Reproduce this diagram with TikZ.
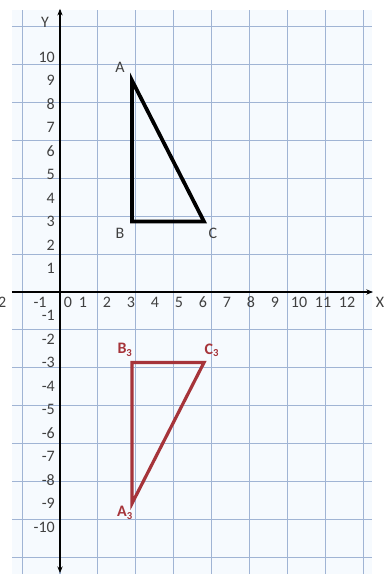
\documentclass[tikz,border=0pt]{standalone}
\usepackage{fontspec}
\setmainfont{Carlito}
\usetikzlibrary{arrows.meta, positioning, calc}
\definecolor{gridblue}{RGB}{160,180,212}
\definecolor{paper}{RGB}{246,250,254}
\definecolor{imagered}{RGB}{166,52,58}

\begin{document}
\begin{tikzpicture}[x=18pt, y=17.625pt, >={Stealth[length=5pt,width=4pt]},
    tick/.style={font=\fontsize{12}{14}\selectfont, inner sep=1pt, text=black!75},
    vlabel/.style={font=\fontsize{12}{14}\selectfont, inner sep=1pt, text=black!75},
    imglabel/.style={font=\fontsize{12}{14}\selectfont\bfseries, inner sep=1pt, text=imagered}]

  \useasboundingbox (-2.5,-12.298) rectangle (13.583,12.426);

  % --- Graph Paper ---
  \fill[paper] (-2,-12) rectangle (13,12);
  \draw[gridblue, line width=0.8pt] (-2,-12) grid (13,12);

  % --- Axes ---
  \draw[<->, line width=0.9pt] (0,-11.96) -- (0,12.05);
  \draw[->, line width=0.9pt] (-2,0) -- (13.04,0);
  \node[tick] (ylab) at (-0.625,11.49) {Y};
  \node[tick] (xlab) at (13.33,-0.43) {X};

  % x-axis numbers (sitting just under the axis)
  \foreach \x in {1,...,12} {
    \node[tick] (xt\x) at (\x-0.04,-0.43) {\x};
  }
  \node[tick] (xt0) at (0.33,-0.43) {0};
  \node[tick] (xtm1) at (-0.83,-0.43) {-1};
  \node[tick, anchor=east] (xtm2) at (-2.17,-0.43) {-2};

  % y-axis numbers (right aligned against the axis)
  \foreach \y in {1,...,10} {
    \node[tick, anchor=east] (yt\y) at (-0.15,\y) {\y};
    \node[tick, anchor=east] (ytm\y) at (-0.15,-\y) {-\y};
  }

  % --- Object Triangle ABC ---
  \coordinate (A) at (3,9);
  \coordinate (B) at (3,3);
  \coordinate (C) at (6,3);
  \draw[line width=2.8pt, line join=miter] (A) -- (B) -- (C) -- cycle;
  \node[vlabel] (lA) at (2.5,9.57) {A};
  \node[vlabel] (lB) at (2.5,2.51) {B};
  \node[vlabel] (lC) at (6.375,2.51) {C};

  % --- Image Triangle A3B3C3 ---
  \coordinate (A3) at (3,-9);
  \coordinate (B3) at (3,-3);
  \coordinate (C3) at (6,-3);
  \draw[imagered, line width=2.4pt, line join=miter] (A3) -- (B3) -- (C3) -- cycle;
  \node[imglabel] (lB3) at (2.71,-2.47) {B\textsubscript{3}};
  \node[imglabel] (lC3) at (6.33,-2.47) {C\textsubscript{3}};
  \node[imglabel] (lA3) at (2.71,-9.4) {A\textsubscript{3}};

\end{tikzpicture}
\end{document}
